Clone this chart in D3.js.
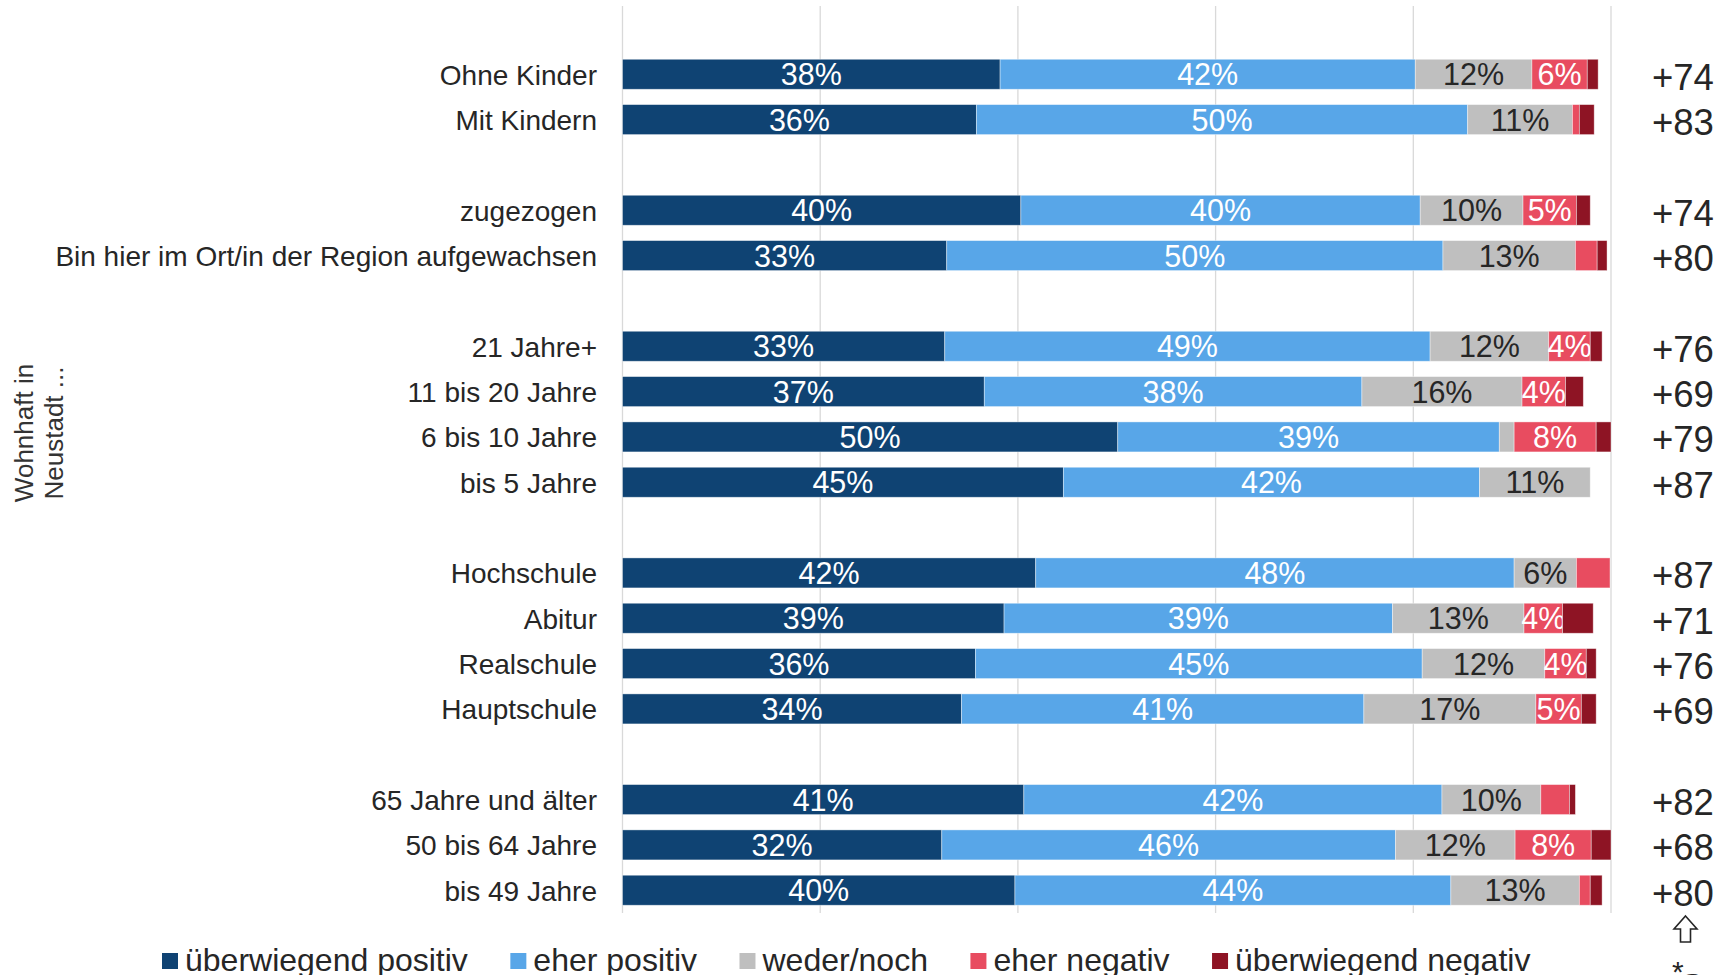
<!DOCTYPE html>
<html>
<head>
<meta charset="utf-8">
<script src="https://cdn.jsdelivr.net/npm/d3@7"></script>
<style>
    body { margin: 0; background: #fff; }
    svg text { font-family: "Liberation Sans", Arial, sans-serif; fill: #262626; }
</style>
</head>
<body>
<svg id="d3" width="1729" height="975"></svg>
<script>
// Zeilen von oben nach unten
var categories = ["Ohne Kinder", "Mit Kindern", "zugezogen", "Bin hier im Ort/in der Region aufgewachsen",
    "21 Jahre+", "11 bis 20 Jahre", "6 bis 10 Jahre", "bis 5 Jahre",
    "Hochschule", "Abitur", "Realschule", "Hauptschule",
    "65 Jahre und älter", "50 bis 64 Jahre", "bis 49 Jahre"];
var groupOf = [0, 0, 1, 1, 2, 2, 2, 2, 3, 3, 3, 3, 4, 4, 4];

var seriesNames = ["überwiegend positiv", "eher positiv", "weder/noch", "eher negativ", "überwiegend negativ"];
var ueberwiegendPositiv = [38.2, 35.8, 40.3, 32.8, 32.6, 36.6, 50.1, 44.6, 41.8, 38.6, 35.7, 34.3, 40.6, 32.3, 39.7];
var eherPositiv = [42.0, 49.7, 40.4, 50.2, 49.1, 38.2, 38.6, 42.1, 48.4, 39.3, 45.2, 40.7, 42.3, 45.9, 44.1];
var wederNoch = [11.8, 10.6, 10.4, 13.4, 12.0, 16.2, 1.5, 11.2, 6.3, 13.3, 12.4, 17.4, 10.0, 12.1, 13.0];
var eherNegativ = [5.6, 0.7, 5.4, 2.2, 4.2, 4.4, 8.3, 0, 3.4, 3.9, 4.2, 4.6, 2.9, 7.7, 1.1];
var ueberwiegendNegativ = [1.1, 1.5, 1.4, 1.0, 1.2, 1.8, 1.5, 0, 0, 3.1, 1.0, 1.5, 0.6, 2.0, 1.2];
var saldo = ["+74", "+83", "+74", "+80", "+76", "+69", "+79", "+87", "+87", "+71", "+76", "+69", "+82", "+68", "+80"];
var xTicks = [0, 20, 40, 60, 80, 100];

var colors = ["#0f4373", "#58a6e8", "#bfbfbf", "#e84c60", "#8e1424"];
var labelColors = ["#ffffff", "#ffffff", "#262626", "#ffffff", "#ffffff"];

var svg = d3.select("svg");

// Slots inkl. Leerzeilen zwischen den Gruppen
var slots = [];
categories.forEach(function(c, i) {
    if (i > 0 && groupOf[i] != groupOf[i - 1]) slots.push("gap" + i);
    slots.push(c);
});

var y = d3.scaleBand()
    .domain(slots)
    .range([51.6, 912.9])
    .paddingInner(0.338)
    .paddingOuter(0.169);

var x = d3.scaleLinear()
    .domain([0, 100])
    .range([622.5, 1611]);

// Gitterlinien
svg.append("g")
    .selectAll("line")
    .data(xTicks)
    .enter()
    .append("line")
    .attr("x1", d => x(d)).attr("x2", d => x(d))
    .attr("y1", 6).attr("y2", 912.9)
    .attr("stroke", "#d9d9d9")
    .attr("stroke-width", 1.3);

// Tabelle für stack
var rows = categories.map(function(c, i) {
    var r = {name: c};
    r[seriesNames[0]] = ueberwiegendPositiv[i];
    r[seriesNames[1]] = eherPositiv[i];
    r[seriesNames[2]] = wederNoch[i];
    r[seriesNames[3]] = eherNegativ[i];
    r[seriesNames[4]] = ueberwiegendNegativ[i];
    return r;
});
var stacked = d3.stack().keys(seriesNames)(rows);

var layers = svg.append("g")
    .selectAll("g")
    .data(stacked)
    .enter()
    .append("g");

layers.selectAll("rect")
    .data(d => d.map(p => ({p: p, k: d.index})))
    .enter()
    .append("rect")
    .attr("x", d => x(d.p[0]))
    .attr("y", d => y(d.p.data.name))
    .attr("width", d => x(d.p[1]) - x(d.p[0]))
    .attr("height", y.bandwidth())
    .attr("fill", d => colors[d.k])
    .attr("stroke", "#ffffff")
    .attr("stroke-opacity", 0.5)
    .attr("stroke-width", 0.8);

// Prozentwerte in den Balken
layers.selectAll("text")
    .data(d => d.map(p => ({p: p, k: d.index})).filter(d => d.p[1] - d.p[0] >= 3.5))
    .enter()
    .append("text")
    .attr("x", d => (x(d.p[0]) + x(d.p[1])) / 2)
    .attr("y", d => y(d.p.data.name) + y.bandwidth() / 2 + 11)
    .attr("text-anchor", "middle")
    .style("font-size", "30.5px")
    .style("fill", d => labelColors[d.k])
    .text(d => Math.round(d.p[1] - d.p[0]) + "%");

// Kategorien
svg.append("g")
    .selectAll("text")
    .data(categories)
    .enter()
    .append("text")
    .attr("x", 597)
    .attr("y", d => y(d) + y.bandwidth() / 2 + 10.5)
    .attr("text-anchor", "end")
    .style("font-size", "28px")
    .text(d => d);

// Saldo rechts
svg.append("g")
    .selectAll("text")
    .data(saldo)
    .enter()
    .append("text")
    .attr("x", 1652)
    .attr("y", (d, i) => y(categories[i]) + y.bandwidth() / 2 + 15.5)
    .style("font-size", "36.5px")
    .text(d => d);

// Pfeil und Fußnote unten rechts
svg.append("path")
    .attr("d", "M1685.5,916 L1697,929 L1690.5,929 L1690.5,942 L1680.5,942 L1680.5,929 L1674,929 Z")
    .attr("fill", "#fff")
    .attr("stroke", "#262626")
    .attr("stroke-width", 1.6)
    .attr("stroke-linejoin", "miter");
svg.append("text")
    .attr("x", 1672).attr("y", 982)
    .style("font-size", "30px")
    .text("*");
svg.append("text")
    .attr("x", 1680).attr("y", 1000)
    .style("font-size", "36px")
    .text("S");

// Achsentitel
var title = svg.append("text")
    .attr("transform", "translate(33,433) rotate(-90)")
    .attr("text-anchor", "middle")
    .style("font-size", "26px")
    .style("fill", "#333");
title.append("tspan").attr("x", 0).attr("dy", 0).text("Wohnhaft in");
title.append("tspan").attr("x", 0).attr("dy", 30).text("Neustadt ...");

// Legende
var lx = 162;
seriesNames.forEach(function(n, i) {
    var lg = svg.append("g");
    lg.append("rect")
        .attr("x", lx).attr("y", 953)
        .attr("width", 16).attr("height", 16)
        .attr("fill", colors[i]);
    var t = lg.append("text")
        .attr("x", lx + 23).attr("y", 971)
        .style("font-size", "32px")
        .text(n);
    lx += 23 + t.node().getComputedTextLength() + 42.5;
});
</script>
</body>
</html>
